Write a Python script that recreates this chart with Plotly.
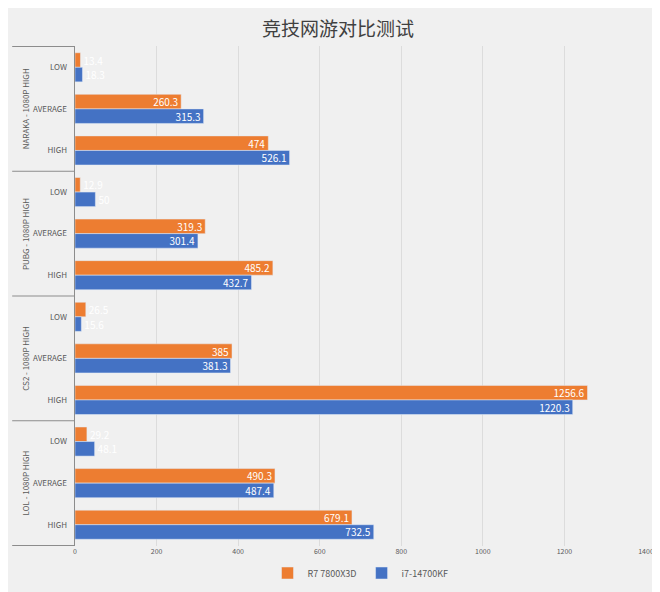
import plotly.graph_objects as go

games = ["NARAKA - 1080P HIGH", "PUBG - 1080P HIGH", "CS2 - 1080P HIGH", "LOL - 1080P HIGH"]
levels = ["LOW", "AVERAGE", "HIGH"]
r7 = [13.4, 260.3, 474, 12.9, 319.3, 485.2, 26.5, 385, 1256.6, 29.2, 490.3, 679.1]
i7 = [18.3, 315.3, 526.1, 50, 301.4, 432.7, 15.6, 381.3, 1220.3, 48.1, 487.4, 732.5]

cats = [g + "|" + lv for g in games for lv in levels]
ticktext = [lv + "   " for g in games for lv in levels]

fig = go.Figure()
for name, vals, col in [("R7 7800X3D", r7, "#ED7D31"), ("i7-14700KF", i7, "#4472C4")]:
    # small bars: label placed just past the bar start, in white like the original
    pos = ["outside" if v < 60 else "inside" for v in vals]
    fig.add_trace(go.Bar(y=cats, x=vals, name=name, orientation="h", marker_color=col,
                         text=[str(v) for v in vals], textposition=pos, insidetextanchor="end",
                         textfont=dict(color="white", size=10), outsidetextfont=dict(color="white", size=10),
                         textangle=0, constraintext="none", cliponaxis=False))

fig.update_layout(
    title=dict(text="竞技网游对比测试", x=0.5, y=0.975, font=dict(size=19, color="#404040")),
    width=660, height=592, barmode="group", bargap=0.3, bargroupgap=0,
    paper_bgcolor="#f0f0f0", plot_bgcolor="#f0f0f0",
    margin=dict(l=67, r=22, t=38, b=38),
    font=dict(family="Noto Sans CJK SC, Noto Sans", color="#595959", size=8),
    legend=dict(orientation="h", x=0.5, xanchor="center", y=-0.025, yanchor="top",
                traceorder="normal", font=dict(size=9)),
)
fig.update_xaxes(range=[0, 1400], dtick=200, gridcolor="#dcdcdc", zeroline=False, tickfont=dict(size=7))
fig.update_yaxes(autorange="reversed", tickvals=cats, ticktext=ticktext, showline=True,
                 linecolor="#8c8c8c", ticks="", tickfont=dict(size=8), automargin=False)

for k, g in enumerate(games):
    fig.add_annotation(text=g, x=-0.1, xref="paper", y=3 * k + 1, yref="y", textangle=-90,
                       showarrow=False, font=dict(size=8, color="#595959"))
for b in [-0.5, 2.5, 5.5, 8.5, 11.5]:
    fig.add_shape(type="line", xref="paper", yref="y", x0=-0.11, x1=0, y0=b, y1=b,
                  line=dict(color="#8c8c8c", width=1))

fig.write_html("out.html")
